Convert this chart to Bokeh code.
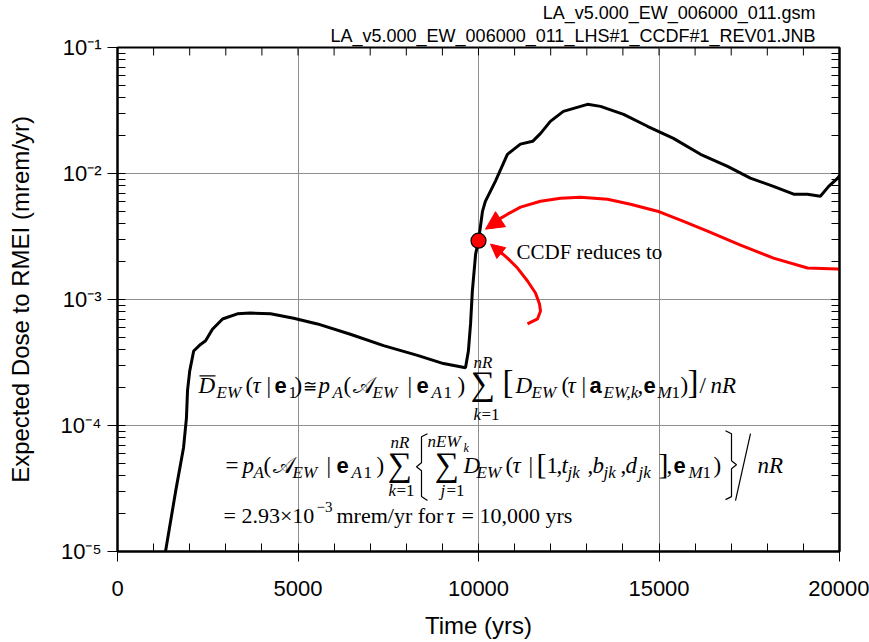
from bokeh.plotting import figure
from bokeh.models import (LogAxis, FixedTicker, CustomJSTickFormatter,
                          Label, Arrow, NormalHead, ColumnDataSource, Range1d, Title)
from bokeh.core.properties import field
from bokeh.embed import file_html
from bokeh.resources import INLINE

# ---------------- data ----------------
time_yrs = [1330, 1610, 1830, 1910, 1940, 2000, 2110, 2300, 2440, 2630, 2910, 3320,
            3680, 4240, 4880, 5540, 6450, 7370, 8310, 9030, 9640, 9720, 9780, 9830,
            9920, 10000, 10110, 10190, 10470, 10800, 11160, 11500, 11720, 11990, 12350,
            13020, 13380, 14020, 14680, 15400, 16150, 16900, 17530, 18170, 18730, 19110,
            19470, 19700, 19950, 20000]
exp_dose = [1.0e-5, 3.0e-5, 6.7e-5, 1.15e-4, 1.9e-4, 2.7e-4, 3.9e-4, 4.4e-4, 4.7e-4,
            5.8e-4, 7.0e-4, 7.7e-4, 7.8e-4, 7.7e-4, 7.1e-4, 6.4e-4, 5.3e-4, 4.3e-4,
            3.6e-4, 3.1e-4, 2.87e-4, 3.9e-4, 6.4e-4, 1.17e-3, 2.29e-3, 2.93e-3, 5.0e-3,
            6.0e-3, 8.7e-3, 1.42e-2, 1.71e-2, 1.80e-2, 2.08e-2, 2.59e-2, 3.11e-2, 3.54e-2,
            3.41e-2, 2.95e-2, 2.37e-2, 1.90e-2, 1.42e-2, 1.14e-2, 9.2e-3, 7.9e-3, 6.85e-3,
            6.85e-3, 6.6e-3, 7.9e-3, 9.2e-3, 9.6e-3]
ccdf_time = [10000]
ccdf_dose = [2.93e-3]

x_ticks = [0, 5000, 10000, 15000, 20000]
x_minor = list(range(0, 20001, 1000))
y_ticks = [1e-5, 1e-4, 1e-3, 1e-2, 1e-1]
y_minor = [m * d for d in [1e-5, 1e-4, 1e-3, 1e-2] for m in range(1, 10)]

title_lines = ["LA_v5.000_EW_006000_011.gsm",
               "LA_v5.000_EW_006000_011_LHS#1_CCDF#1_REV01.JNB"]
x_label = "Time (yrs)"
y_label = "Expected Dose to RMEI (mrem/yr)"
note_text = "CCDF reduces to"

# ---------------- figure ----------------
W, H = 869, 642
L, R, T, B = 117, 839, 46, 551
XMIN, XMAX = 0, 20000
LMIN, LMAX = -5, -1

p = figure(width=W, height=H, x_range=Range1d(XMIN, XMAX), y_range=Range1d(10**LMIN, 10**LMAX),
           y_axis_type="log", output_backend="svg", toolbar_location=None,
           min_border_left=L, min_border_right=W - R, min_border_top=T, min_border_bottom=H - B,
           background_fill_color="white", border_fill_color="white")


def dx(px):
    return XMIN + (px - L) / (R - L) * (XMAX - XMIN)


def dy(py):
    return 10 ** (LMAX - (py - T) / (B - T) * (LMAX - LMIN))


SANS = "Liberation Sans"
SERIF = "Liberation Serif"
SHIFT = 0.33  # baseline correction (fraction of font size)

p.outline_line_color = "black"
p.outline_line_width = 2
p.xgrid.grid_line_color = "#8f8f8f"
p.ygrid.grid_line_color = "#8f8f8f"
p.xgrid.grid_line_width = 1
p.ygrid.grid_line_width = 1

xt = FixedTicker(ticks=x_ticks, minor_ticks=x_minor)
yt = FixedTicker(ticks=y_ticks, minor_ticks=y_minor)
p.xgrid.ticker = xt
p.ygrid.ticker = yt

sup_fmt = CustomJSTickFormatter(code="""
const e = Math.round(Math.log10(tick));
const sup = {'-':'\u207b','0':'\u2070','1':'\u00b9','2':'\u00b2','3':'\u00b3','4':'\u2074','5':'\u2075','6':'\u2076','7':'\u2077','8':'\u2078','9':'\u2079'};
return '10' + String(e).split('').map(c => sup[c]).join('');
""")
empty_fmt = CustomJSTickFormatter(code="return '';")

xa = p.below[0]
xa.ticker = xt
xa.axis_label = x_label
ya = p.left[0]
ya.ticker = yt
ya.formatter = sup_fmt
ya.axis_label = y_label

for ax in (xa, ya):
    ax.axis_line_width = 2
    ax.axis_line_color = "black"
    ax.major_tick_in = 0
    ax.major_tick_out = 10
    ax.minor_tick_in = 8
    ax.minor_tick_out = 0
    ax.major_tick_line_color = "black"
    ax.minor_tick_line_color = "black"
    ax.major_label_text_font = SANS
    ax.major_label_text_font_size = "22px"
    ax.major_label_text_color = "black"
    ax.axis_label_text_font = SANS
    ax.axis_label_text_font_size = "24px"
    ax.axis_label_text_font_style = "normal"
    ax.axis_label_text_color = "black"
xa.major_label_standoff = 19
xa.axis_label_standoff = 13
ya.major_label_standoff = 6
ya.axis_label_standoff = 24

right = LogAxis(ticker=yt, formatter=empty_fmt)
right.axis_line_width = 2
right.major_tick_in = 8
right.major_tick_out = 0
right.minor_tick_in = 8
right.minor_tick_out = 0
right.major_label_text_font_size = "1px"
right.major_label_standoff = 0
p.add_layout(right, "right")

# inward ticks along the top edge
p.segment(x0=x_minor, y0=[10**LMAX] * len(x_minor), x1=x_minor, y1=[dy(T + 8)] * len(x_minor),
          line_color="black", line_width=1)

# title lines (right aligned above the frame)
for txt, so in zip(reversed(title_lines), (3, 0)):
    p.add_layout(Title(text=txt, align="right", offset=24, standoff=so, text_font=SANS,
                       text_font_size="18px", text_font_style="normal", text_color="black"),
                 "above")

# ---------------- data curve ----------------
p.line(time_yrs, exp_dose, line_color="black", line_width=3)

# ---------------- red annotation ----------------
long_arrow_px = [(845, 269), (837, 268), (807, 267), (773, 257), (740, 244), (707, 230),
                 (680, 219), (657, 210), (630, 203), (607, 198), (580, 196), (560, 197),
                 (540, 200), (520, 206), (507, 213), (497, 219)]
short_arrow_px = [(527, 323), (537, 318), (540, 310), (539, 303), (535, 292), (527, 280),
                  (517, 267), (507, 257), (500, 251)]
for path in (long_arrow_px, short_arrow_px):
    p.line([dx(a) for a, b in path], [dy(b) for a, b in path], line_color="red", line_width=3)
p.add_layout(Arrow(end=NormalHead(size=18, fill_color="red", line_color="red", line_width=1),
                   x_start=dx(500), y_start=dy(218), x_end=dx(485), y_end=dy(228),
                   line_color="red", line_width=3))
p.add_layout(Arrow(end=NormalHead(size=14, fill_color="red", line_color="red", line_width=1),
                   x_start=dx(502), y_start=dy(253), x_end=dx(490), y_end=dy(243),
                   line_color="red", line_width=3))
p.scatter(ccdf_time, ccdf_dose, size=15, fill_color="red", line_color="black", line_width=1.2)

p.add_layout(Label(x=dx(516), y=dy(258 - SHIFT * 21), text=note_text, text_font=SERIF,
                   text_font_size="21px", text_baseline="alphabetic", text_align="left",
                   text_color="black"))

# ---------------- formula ----------------
I, N, BS = "italic", "normal", "bold"
big, sub, bol = 23, 17, 22
pieces = [
    # line 1
    ("D", 198, 392, big, SERIF, I), ("EW", 216, 397, sub, SERIF, I),
    ("(", 245, 392, big, SERIF, N), ("\u03c4", 252, 392, big, SERIF, I),
    ("|", 266, 392, big, SERIF, N), ("e", 274, 392, bol, SANS, BS),
    ("1", 288, 397, sub, SERIF, N), (")", 294, 392, big, SERIF, N),
    ("\u2245", 302, 391, 17, SERIF, N), ("p", 318, 392, big, SERIF, I),
    ("A", 332, 397, sub, SERIF, I), ("(", 343, 392, big, SERIF, N),
    ("\U0001d49c", 352, 392, big, SERIF, N), ("EW", 372, 397, sub, SERIF, I),
    ("|", 407, 392, big, SERIF, N), ("e", 416, 392, bol, SANS, BS),
    ("A", 431, 397, sub, SERIF, I), ("1", 443, 397, sub, SERIF, N),
    (")", 457, 392, big, SERIF, N), ("\u2211", 470, 394, 34, SERIF, N),
    ("nR", 473, 367, sub, SERIF, I), ("k", 473, 419, sub, SERIF, I), ("=1", 481, 419, sub, SERIF, N),
    ("[", 502, 392, 33, SERIF, N), ("D", 515, 392, big, SERIF, I),
    ("EW", 531, 397, sub, SERIF, I), ("(", 561, 392, big, SERIF, N),
    ("\u03c4", 567, 392, big, SERIF, I), ("|", 581, 392, big, SERIF, N),
    ("a", 589, 392, bol, SANS, BS), ("EW,k", 603, 397, sub, SERIF, I),
    (",", 637, 392, big, SERIF, N), ("e", 643, 392, bol, SANS, BS),
    ("M", 657, 397, sub, SERIF, I), ("1", 671, 397, sub, SERIF, N),
    (")", 680, 392, big, SERIF, N), ("]", 687, 392, 33, SERIF, N),
    ("/", 699, 392, big, SERIF, N), ("nR", 710, 392, big, SERIF, I),
    # line 2
    ("=", 225, 472, big, SERIF, N), ("p", 242, 472, big, SERIF, I),
    ("A", 253, 477, sub, SERIF, I), ("(", 263, 472, big, SERIF, N),
    ("\U0001d49c", 272, 472, big, SERIF, N), ("EW", 292, 477, sub, SERIF, I),
    ("|", 326, 472, big, SERIF, N), ("e", 336, 472, bol, SANS, BS),
    ("A", 351, 477, sub, SERIF, I), ("1", 363, 477, sub, SERIF, N),
    (")", 376, 472, big, SERIF, N), ("\u2211", 387, 475, 34, SERIF, N),
    ("nR", 390, 447, sub, SERIF, I), ("k", 388, 495, sub, SERIF, I), ("=1", 396, 495, sub, SERIF, N),
    ("nEW", 427, 446, sub, SERIF, I), ("k", 463, 451, 12, SERIF, I),
    ("\u2211", 434, 475, 34, SERIF, N),
    ("j", 440, 495, sub, SERIF, I), ("=1", 446, 495, sub, SERIF, N),
    ("D", 463, 472, big, SERIF, I), ("EW", 476, 477, sub, SERIF, I),
    ("(", 505, 472, big, SERIF, N), ("\u03c4", 512, 472, big, SERIF, I),
    ("|", 528, 472, big, SERIF, N), ("[", 536, 473, 30, SERIF, N),
    ("1", 546, 472, big, SERIF, N), (",", 556, 472, big, SERIF, N),
    ("t", 561, 472, big, SERIF, I),
    ("jk", 567, 477, sub, SERIF, I), (",", 587, 472, big, SERIF, N),
    ("b", 592, 472, big, SERIF, I), ("jk", 603, 477, sub, SERIF, I),
    (",", 620, 472, big, SERIF, N), ("d", 625, 472, big, SERIF, I),
    ("jk", 638, 477, sub, SERIF, I), ("]", 658, 473, 30, SERIF, N),
    (",", 666, 472, big, SERIF, N), ("e", 673, 472, bol, SANS, BS),
    ("M", 688, 477, sub, SERIF, I), ("1", 702, 477, sub, SERIF, N),
    (")", 713, 472, big, SERIF, N), ("nR", 757, 472, big, SERIF, I),
    # line 3
    ("= 2.93\u00d710", 223, 522, 22, SERIF, N), ("\u22123", 316, 511, 15, SERIF, N),
    ("mrem/yr for", 336, 522, 22, SERIF, N), ("\u03c4", 446, 522, 22, SERIF, I),
    ("= 10,000 yrs", 461, 522, 22, SERIF, N),
]
src = ColumnDataSource(dict(
    x=[dx(a[1]) for a in pieces], y=[dy(a[2] - SHIFT * a[3]) for a in pieces],
    text=[a[0] for a in pieces], size=["%dpx" % a[3] for a in pieces],
    font=[a[4] for a in pieces], style=[a[5] for a in pieces]))
p.text(x="x", y="y", text="text", source=src, text_font_size=field("size"),
       text_font=field("font"), text_font_style=field("style"), text_color="black",
       text_align="left", text_baseline="alphabetic")

# overbar, braces and the big slash of the formula
strokes = [
    [(199, 375), (215, 375)],
    [(427, 433), (421, 436), (421, 462), (416, 466), (421, 470), (421, 496), (427, 500)],
    [(725, 430), (731, 433), (731, 460), (736, 464), (731, 468), (731, 496), (725, 499)],
    [(735, 500), (750, 433)],
]
for s in strokes:
    p.line([dx(a) for a, b in s], [dy(b) for a, b in s], line_color="black", line_width=1.2)

open("out.html", "w").write(file_html(p, INLINE))
